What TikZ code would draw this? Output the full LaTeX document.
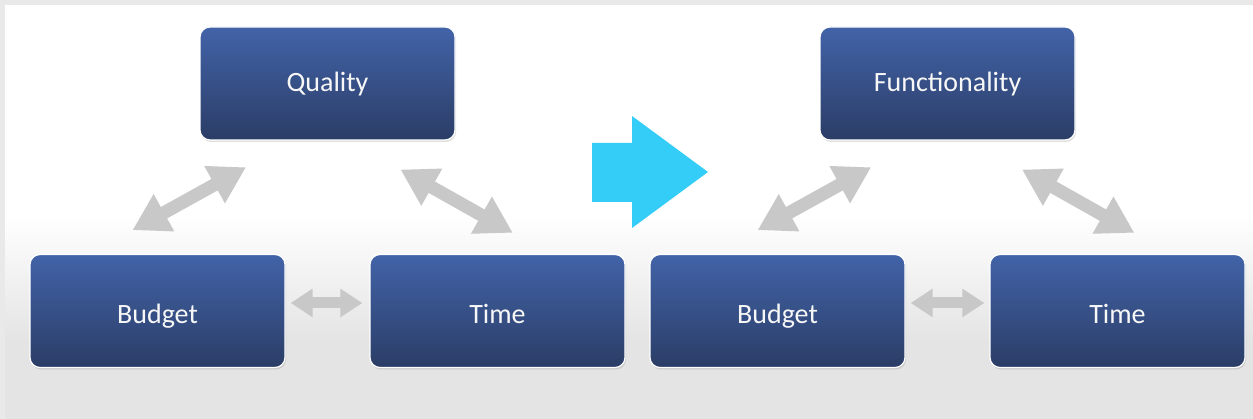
\documentclass[tikz,border=0pt]{standalone}
\usepackage{fontspec}
\setmainfont{Carlito}
\usetikzlibrary{arrows.meta,calc,shadows}
\definecolor{boxtop}{RGB}{66,99,168}
\definecolor{boxbot}{RGB}{43,61,102}
\definecolor{linkgray}{RGB}{200,200,200}
\definecolor{cyanarrow}{RGB}{52,205,247}
\definecolor{framegray}{RGB}{233,233,233}
\definecolor{floorgray}{RGB}{228,228,228}
\begin{document}
\begin{tikzpicture}[x=1pt,y=-1pt,
    box/.style={rectangle, rounded corners=10pt, draw=white, line width=1.2pt,
        top color=boxtop, bottom color=boxbot, minimum width=255pt, minimum height=113pt,
        text=white!94!gray, font=\fontsize{28}{32}\selectfont,
        text height=22pt, text depth=6pt,
        drop shadow={opacity=0.25,shadow xshift=1pt,shadow yshift=-2pt}},
    lowbox/.style={box, text height=28pt, text depth=2pt},
    link/.style={linkgray, line width=13pt,
        {Triangle[length=36pt,width=40pt]}-{Triangle[length=36pt,width=40pt]}},
    shortlink/.style={linkgray, line width=11pt,
        {Triangle[length=22pt,width=27pt]}-{Triangle[length=22pt,width=27pt]}}]
    \useasboundingbox (0,0) rectangle (1253,419);
    % background
    \fill [framegray] (0,0) rectangle (1253,419);
    \fill [white] (5,5) rectangle (1253,215);
    \shade [top color=white, bottom color=floorgray] (5,215) rectangle (1253,340);
    \fill [floorgray] (5,339.5) rectangle (1253,419);
    % left triangle
    \node [box] (quality) at (327.5,83.5) {Quality};
    \node [lowbox] (budgetL) at (157.5,311) {Budget};
    \node [lowbox] (timeL) at (497.5,311) {Time};
    % right triangle
    \node [box] (function) at (947.5,83.5) {Functionality};
    \node [lowbox] (budgetR) at (777.5,311) {Budget};
    \node [lowbox] (timeR) at (1117.5,311) {Time};
    % change arrow
    \fill [cyanarrow] (592,143) -- (632,143) -- (632,116) -- (708,172)
        -- (632,228) -- (632,202) -- (592,202) -- cycle;
    % links
    \draw [link, shorten <=49pt, shorten >=55pt]
        ($(budgetL.north west)!0.235!(budgetL.north east)$) -- ($(quality.south west)!0.37!(quality.south east)$);
    \draw [link, shorten <=59pt, shorten >=43pt]
        ($(quality.south west)!0.584!(quality.south east)$) -- ($(timeL.north west)!0.706!(timeL.north east)$);
    \draw [shortlink, shorten <=5pt, shorten >=7pt]
        ([yshift=8pt]budgetL.east) -- ([yshift=8pt]timeL.west);
    \draw [link, shorten <=49pt, shorten >=55pt]
        ($(budgetR.north west)!0.255!(budgetR.north east)$) -- ($(function.south west)!0.39!(function.south east)$);
    \draw [link, shorten <=59pt, shorten >=43pt]
        ($(function.south west)!0.59!(function.south east)$) -- ($(timeR.north west)!0.712!(timeR.north east)$);
    \draw [shortlink, shorten <=5pt, shorten >=5pt]
        ([yshift=8pt]budgetR.east) -- ([yshift=8pt]timeR.west);
\end{tikzpicture}
\end{document}
